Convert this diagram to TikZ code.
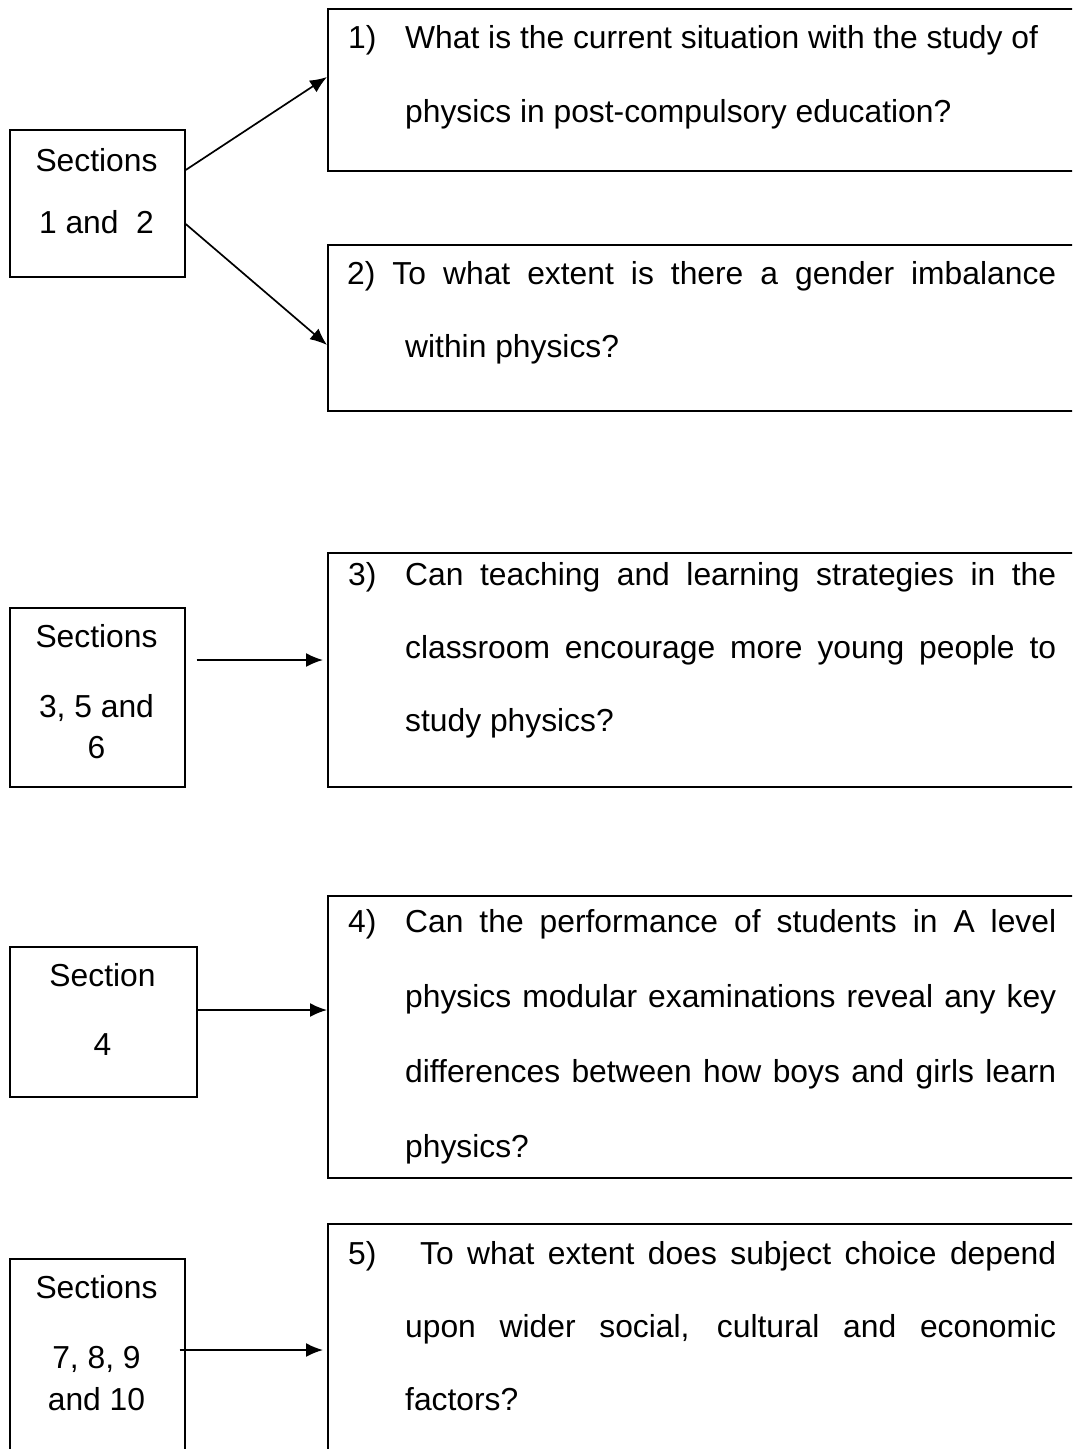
\documentclass[tikz,border=0pt]{standalone}
\usepackage{fontspec}
\setmainfont{Liberation Sans}
\usetikzlibrary{arrows.meta,calc}
\begin{document}
\begin{tikzpicture}[x=1pt,y=-1pt,
  box/.style={draw, line width=1.7pt, inner sep=0pt, anchor=north west},
  txt/.style={inner sep=0pt, font=\fontsize{31.8}{37}\selectfont},
  arr/.style={line width=1.7pt, -{Latex[length=17pt,width=14pt]}}]
\clip (0,0) rectangle (1072,1449);
\fill[white] (0,0) rectangle (1072,1449);
% left boxes
\node[box, minimum width=175, minimum height=147] (A) at (9,129) {};
\node[box, minimum width=175, minimum height=179] (B) at (9,607) {};
\node[box, minimum width=187, minimum height=150] (C) at (9,946) {};
\node[box, minimum width=175, minimum height=260] (D) at (9,1258) {};
% right boxes
\node[box, minimum width=770, minimum height=162] (Q1) at (327,8) {};
\node[box, minimum width=770, minimum height=166] (Q2) at (327,244) {};
\node[box, minimum width=770, minimum height=234] (Q3) at (327,552) {};
\node[box, minimum width=770, minimum height=282] (Q4) at (327,895) {};
\node[box, minimum width=770, minimum height=300] (Q5) at (327,1223) {};
% left texts
\node[txt, anchor=base] (a1) at (96.5,171) {Sections};
\node[txt, anchor=base] (a2) at (96.5,233) {1 and\ \ 2};
\node[txt, anchor=base] (b1) at (96.5,647) {Sections};
\node[txt, anchor=base] (b2) at (96.5,717) {3, 5 and};
\node[txt, anchor=base] (b3) at (96.5,758) {6};
\node[txt, anchor=base] (c1) at (102.5,986) {Section};
\node[txt, anchor=base] (c2) at (102.5,1055) {4};
\node[txt, anchor=base] (d1) at (96.5,1298) {Sections};
\node[txt, anchor=base] (d2) at (96.5,1368) {7, 8, 9};
\node[txt, anchor=base] (d3) at (96.5,1410) {and 10};
% question texts
\node[txt, anchor=base west] (q1n) at (348,48) {1)};
\node[txt, anchor=base west] (q1a) at (405,48) {What is the current situation with the study of};
\node[txt, anchor=base west] (q1b) at (405,122) {physics in post-compulsory education?};
\node[txt, anchor=base west] (q2a) at (347,284) {\makebox[709pt][s]{2) To what extent is there a gender imbalance}};
\node[txt, anchor=base west] (q2b) at (405,357) {within physics?};
\node[txt, anchor=base west] (q3n) at (348,585) {3)};
\node[txt, anchor=base west] (q3a) at (405,585) {\makebox[651pt][s]{Can teaching and learning strategies in the}};
\node[txt, anchor=base west] (q3b) at (405,658) {\makebox[651pt][s]{classroom encourage more young people to}};
\node[txt, anchor=base west] (q3c) at (405,731) {study physics?};
\node[txt, anchor=base west] (q4n) at (348,932) {4)};
\node[txt, anchor=base west] (q4a) at (405,932) {\makebox[651pt][s]{Can the performance of students in A level}};
\node[txt, anchor=base west] (q4b) at (405,1007) {\makebox[651pt][s]{physics modular examinations reveal any key}};
\node[txt, anchor=base west] (q4c) at (405,1082) {\makebox[651pt][s]{differences between how boys and girls learn}};
\node[txt, anchor=base west] (q4d) at (405,1157) {physics?};
\node[txt, anchor=base west] (q5n) at (348,1264) {5)};
\node[txt, anchor=base west] (q5a) at (420,1264) {\makebox[636pt][s]{To what extent does subject choice depend}};
\node[txt, anchor=base west] (q5b) at (405,1337) {\makebox[651pt][s]{upon wider social, cultural and economic}};
\node[txt, anchor=base west] (q5c) at (405,1410) {factors?};
% connectors
\coordinate (s1) at ($(A.north east)+(0,41)$);
\coordinate (e1) at ($(Q1.north west)+(0,69)$);
\coordinate (s2) at ($(A.north east)+(0,95)$);
\coordinate (e2) at ($(Q2.north west)+(0,101)$);
\coordinate (s3) at ($(B.north east)+(11,53)$);
\coordinate (e3) at ($(Q3.north west)+(-4,108)$);
\coordinate (s4) at ($(C.north east)+(0,64)$);
\coordinate (e4) at ($(Q4.north west)+(0,115)$);
\coordinate (s5) at ($(D.north east)+(-6,92)$);
\coordinate (e5) at ($(Q5.north west)+(-4,127)$);
\draw[arr] (s1) -- (e1);
\draw[arr] (s2) -- (e2);
\draw[arr] (s3) -- (e3);
\draw[arr] (s4) -- (e4);
\draw[arr] (s5) -- (e5);
\end{tikzpicture}
\end{document}
